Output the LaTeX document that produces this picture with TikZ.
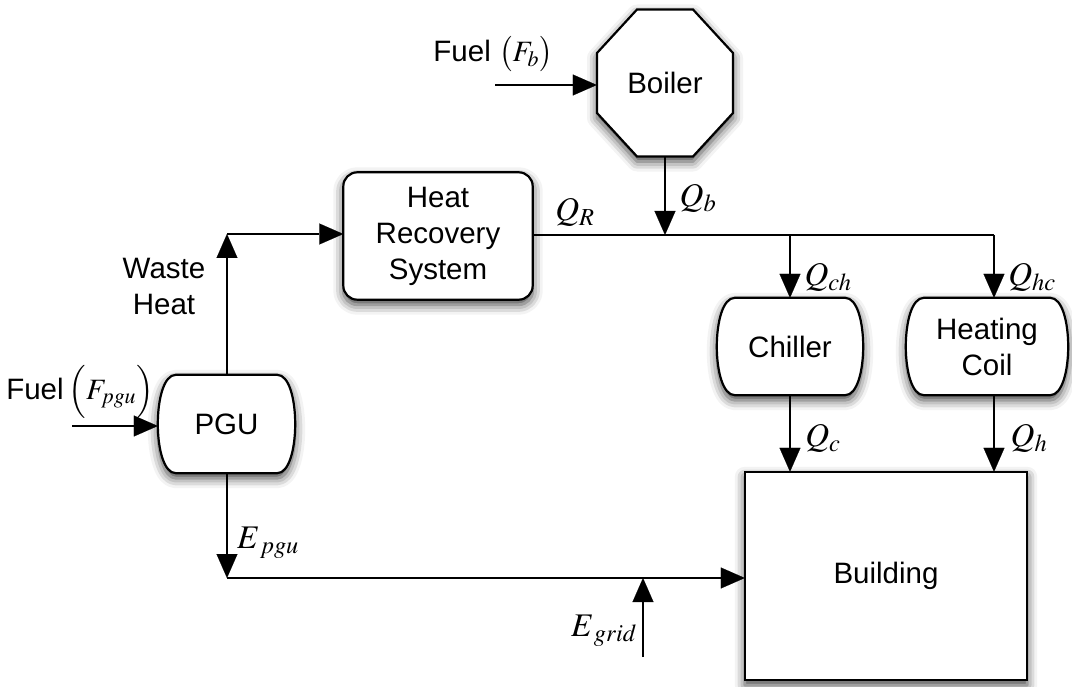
\documentclass[tikz,border=0pt]{standalone}
\usepackage{mathptmx}
\usepackage{fontspec}
\setmainfont{Liberation Sans}
\usetikzlibrary{arrows.meta,calc,shadows.blur}
\pgfdeclarelayer{bg}
\pgfsetlayers{bg,main}
\tikzset{
  lbl/.style={font=\fontsize{29.5}{36}\selectfont, align=center},
  mlbl/.style={font=\fontsize{33}{38}\selectfont, inner sep=0pt},
  holder/.style={draw=none, inner sep=0pt, lbl},
  shp/.style={draw=black, line width=2.2pt, fill=white,
    blur shadow={shadow xshift=0pt, shadow yshift=-5pt, shadow blur radius=10pt, shadow opacity=75}},
  flow/.style={draw=black, line width=2.2pt, -{Triangle[length=24pt,width=21pt,fill=black,line width=0.1pt]}},
  ln/.style={draw=black, line width=2.2pt},
}
\newcommand\barrelpath[1]{%
  \draw[shp] ([xshift=18pt]#1.north west) -- ([xshift=-18pt]#1.north east)
    .. controls ([xshift=6pt]#1.north east) and ([xshift=6pt]#1.south east) .. ([xshift=-18pt]#1.south east)
    -- ([xshift=18pt]#1.south west)
    .. controls ([xshift=-6pt]#1.south west) and ([xshift=-6pt]#1.north west) .. ([xshift=18pt]#1.north west) -- cycle;}
\begin{document}
\begin{tikzpicture}[x=1pt,y=-1pt]
\useasboundingbox (0,0) rectangle (1072,687);

% nodes
\node[holder, minimum width=136pt, minimum height=147pt] (boiler) at (665,83) {Boiler};
\node[holder, minimum width=189pt, minimum height=127pt] (hrs) at (438,236) {Heat\\Recovery\\System};
\node[holder, minimum width=137pt, minimum height=98pt] (pgu) at (226.5,424) {PGU};
\node[holder, minimum width=146pt, minimum height=97pt] (chiller) at (790,346.5) {Chiller};
\node[holder, minimum width=162pt, minimum height=97pt] (hc) at (987,346.5) {Heating\\Coil};
\node[holder, minimum width=282pt, minimum height=208pt] (bld) at (886,576) {Building};

\begin{pgfonlayer}{bg}
  \draw[shp] ([shift={(-28,-73.5)}]boiler.center) -- ([shift={(28,-73.5)}]boiler.center)
    -- ([shift={(68,-30)}]boiler.center) -- ([shift={(68,30)}]boiler.center)
    -- ([shift={(28,73.5)}]boiler.center) -- ([shift={(-28,73.5)}]boiler.center)
    -- ([shift={(-68,30)}]boiler.center) -- ([shift={(-68,-30)}]boiler.center) -- cycle;
  \draw[shp, rounded corners=14pt] (hrs.north west) rectangle (hrs.south east);
  \barrelpath{pgu}
  \barrelpath{chiller}
  \barrelpath{hc}
  \draw[shp] (bld.north west) rectangle (bld.south east);
\end{pgfonlayer}

% coordinates
\coordinate (fb0) at (495,85);
\coordinate (fp0) at (72,426);
\coordinate (jb) at (665,235);
\coordinate (jch) at (790,235);
\coordinate (jhc) at (994,235);
\coordinate (wc) at (227,234);
\coordinate (ec) at (227,578);
\coordinate (g0) at (643,657);

% connectors
\draw[flow] (fb0) -- (boiler.west |- fb0);
\draw[flow] (fp0) -- (pgu.west |- fp0);
\draw[flow] (boiler.south) -- (jb);
\draw[ln] (hrs.east |- jb) -- (jhc);
\draw[flow] (jch) -- (chiller.north);
\draw[flow] (jhc) -- (jhc |- hc.north);
\draw[flow] (chiller.south) -- (chiller.south |- bld.north);
\draw[flow] (jhc |- hc.south) -- (jhc |- bld.north);
\draw[flow] (pgu.north -| wc) -- (wc);
\draw[flow] (wc) -- (hrs.west |- wc);
\draw[flow] (pgu.south -| ec) -- (ec);
\draw[flow] (ec) -- (bld.west |- ec);
\draw[flow] (g0) -- (g0 |- ec);

% labels
\node[lbl] (fuelb) at (493,54) {Fuel $\bigl(F_b\bigr)$};
\node[lbl] (fuelp) at (80,392) {Fuel\,$\Bigl(F_{pgu}\Bigr)$};
\node[lbl] (waste) at (164,286) {Waste\\Heat};
\node[mlbl] (qr) at (575,212) {$Q_R$};
\node[mlbl] (qb) at (698,198) {$Q_b$};
\node[mlbl] (qch) at (828,277) {$Q_{ch}$};
\node[mlbl] (qhc) at (1032,277) {$Q_{hc}$};
\node[mlbl] (qc) at (823,438) {$Q_c$};
\node[mlbl] (qh) at (1029,438) {$Q_h$};
\node[mlbl] (epgu) at (268,543) {$E_{\,pgu}$};
\node[mlbl] (egrid) at (604,631) {$E_{\,grid}$};
\end{tikzpicture}
\end{document}
